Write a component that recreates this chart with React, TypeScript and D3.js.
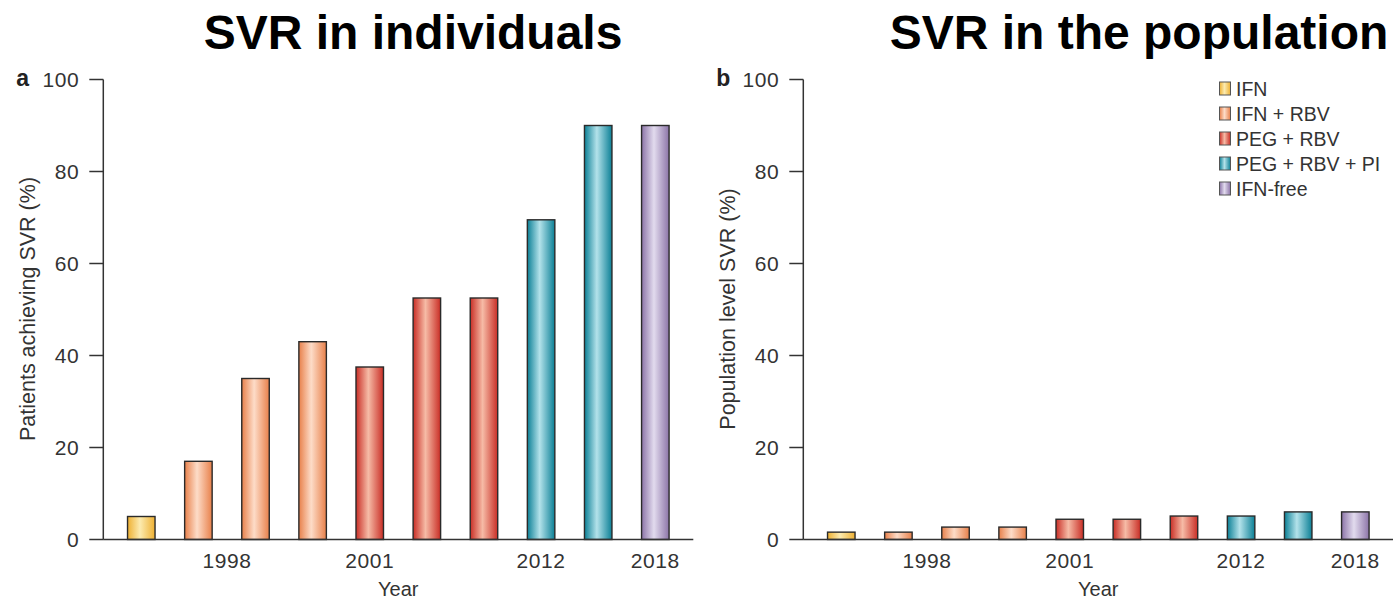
import React from "react";
import * as d3 from "d3";

const therapies = ["IFN", "IFN + RBV", "PEG + RBV", "PEG + RBV + PI", "IFN-free"];
const barTherapies = [
  "IFN", "IFN + RBV", "IFN + RBV", "IFN + RBV",
  "PEG + RBV", "PEG + RBV", "PEG + RBV",
  "PEG + RBV + PI", "PEG + RBV + PI", "IFN-free",
];
const individualSVR = [5, 17, 35, 43, 37.5, 52.5, 52.5, 69.5, 90, 90];
const populationSVR = [1.6, 1.6, 2.7, 2.7, 4.4, 4.4, 5.1, 5.1, 6, 6];
const yearLabels = ["1998", "2001", "2012", "2018"];
const yearLabelSlots = [1.5, 4, 7, 9];
const yTicks = [0, 20, 40, 60, 80, 100];

const therapyColors: Record<string, [string, string]> = {
  "IFN": ["#eeb032", "#fcebb0"],
  "IFN + RBV": ["#e8804a", "#fddcc8"],
  "PEG + RBV": ["#c92e26", "#f6bba6"],
  "PEG + RBV + PI": ["#0c8096", "#b3e2ea"],
  "IFN-free": ["#8c74a8", "#e2dbee"],
};

const FONT = "'Liberation Sans', Arial, sans-serif";
const TXT = "#333";

function gradId(t: string) {
  return "g" + therapies.indexOf(t);
}

function Panel({ x0, values, letter, yTitle }: { x0: number; values: number[]; letter: string; yTitle: string }) {
  const width = 590;
  const x = d3.scaleLinear().domain([-0.665, 9.665]).range([x0, x0 + width]);
  const y = d3.scaleLinear().domain([0, 100]).range([539.5, 79.5]);
  const bw = 27.5;
  return (
    <g>
      {values.map((v, i) => (
        <rect
          key={i}
          x={x(i) - bw / 2}
          y={y(v)}
          width={bw}
          height={y(0) - y(v)}
          fill={`url(#${gradId(barTherapies[i])})`}
          stroke="#2a2a2a"
          strokeWidth={1.4}
        />
      ))}
      <line x1={x0} x2={x0} y1={y(100)} y2={y(0)} stroke="#333" strokeWidth={1.5} />
      <line x1={x0} x2={x0 + width} y1={y(0)} y2={y(0)} stroke="#333" strokeWidth={1.5} />
      {yTicks.map((t) => (
        <g key={t}>
          <line x1={x0 - 14} x2={x0} y1={y(t)} y2={y(t)} stroke="#333" strokeWidth={1.5} />
          <text
            x={x0 - 24}
            y={y(t)}
            dy="0.36em"
            textAnchor="end"
            fontSize={21}
            letterSpacing={0.6}
            fill={TXT}
            fontFamily={FONT}
          >
            {t}
          </text>
        </g>
      ))}
      {yearLabels.map((l, i) => (
        <text
          key={l}
          x={x(yearLabelSlots[i])}
          y={568}
          textAnchor="middle"
          fontSize={21}
          letterSpacing={0.6}
          fill={TXT}
          fontFamily={FONT}
        >
          {l}
        </text>
      ))}
      <text x={x0 + width / 2} y={596} textAnchor="middle" fontSize={20} fill={TXT} fontFamily={FONT}>
        Year
      </text>
      <text
        transform={`translate(${x0 - 76},309) rotate(-90)`}
        textAnchor="middle"
        dy="0.36em"
        fontSize={21.5}
        fill={TXT}
        fontFamily={FONT}
      >
        {yTitle}
      </text>
      <text x={x0 - 87} y={86} fontSize={23} fontWeight="bold" fill="#222" fontFamily={FONT}>
        {letter}
      </text>
    </g>
  );
}

export default function App() {
  return (
    <svg
      width={1393}
      height={601}
      style={{ position: "absolute", left: 0, top: 0, background: "#fff" }}
    >
      <defs>
        {therapies.map((t) => (
          <linearGradient key={t} id={gradId(t)} x1="0" x2="1" y1="0" y2="0">
            <stop offset="0" stopColor={therapyColors[t][0]} />
            <stop offset="0.45" stopColor={therapyColors[t][1]} />
            <stop offset="1" stopColor={therapyColors[t][0]} />
          </linearGradient>
        ))}
      </defs>
      <text x={413} y={49} textAnchor="middle" fontSize={48} fontWeight="bold" fill="#000" fontFamily={FONT}>
        SVR in individuals
      </text>
      <text x={1139} y={49} textAnchor="middle" fontSize={48} fontWeight="bold" fill="#000" fontFamily={FONT}>
        SVR in the population
      </text>
      <Panel x0={103.3} values={individualSVR} letter="a" yTitle="Patients achieving SVR (%)" />
      <Panel x0={803.3} values={populationSVR} letter="b" yTitle="Population level SVR (%)" />
      <g>
        {therapies.map((t, i) => (
          <g key={t}>
            <rect
              x={1219.5}
              y={82 + i * 25}
              width={11}
              height={13}
              fill={`url(#${gradId(t)})`}
              stroke="#555"
              strokeWidth={1}
            />
            <text x={1236} y={82 + i * 25 + 6.5} dy="0.36em" fontSize={19.5} fill={TXT} fontFamily={FONT}>
              {t}
            </text>
          </g>
        ))}
      </g>
    </svg>
  );
}
